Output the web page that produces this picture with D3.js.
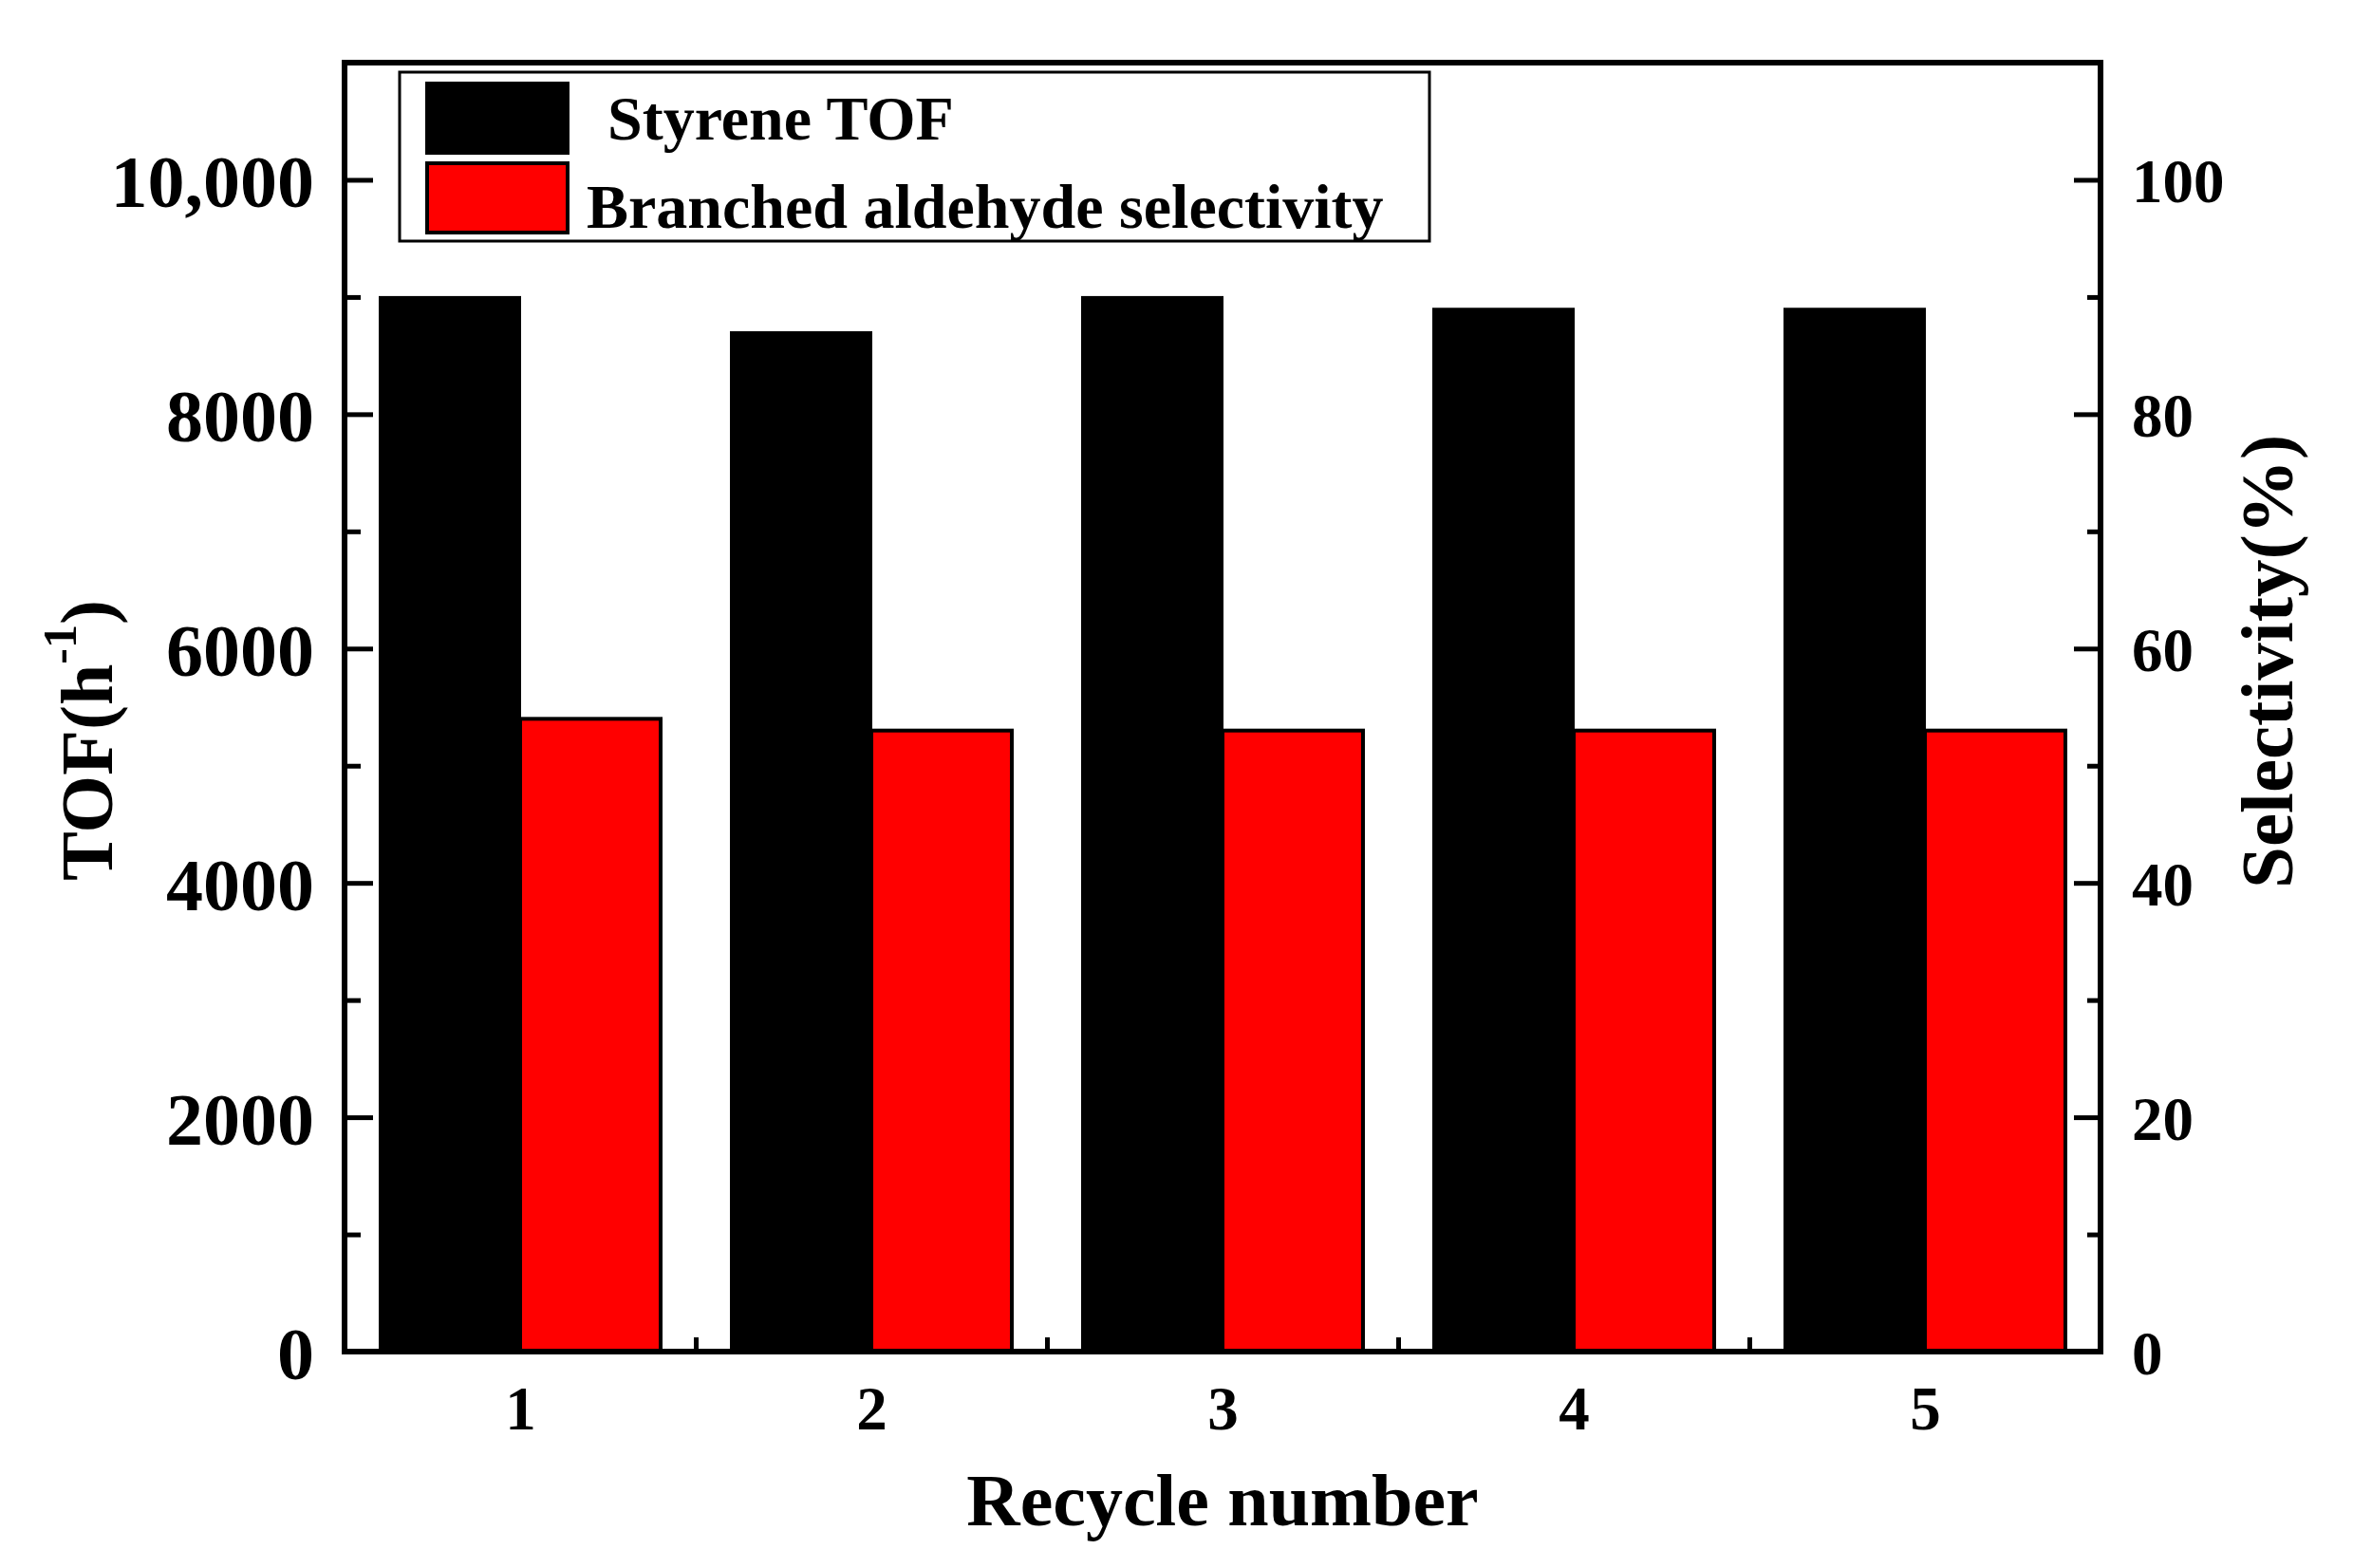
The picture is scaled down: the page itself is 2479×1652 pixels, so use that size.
<!DOCTYPE html>
<html>
<head>
<meta charset="utf-8">
<script src="https://cdn.jsdelivr.net/npm/d3@7"></script>
<style>
  html, body { margin: 0; padding: 0; background: #ffffff; }
  svg { display: block; }
  text { font-family: "Liberation Serif", "Times New Roman", serif; font-weight: bold; fill: #000; }
</style>
</head>
<body>
<svg id="chart" width="2479" height="1652"></svg>
<script>
// ---- data ----
const cycles = [1, 2, 3, 4, 5];
const styreneTOF = [9000, 8700, 9000, 8900, 8900];
const branchedSelectivity = [54, 53, 53, 53, 53];
const leftMajorTicks = [0, 2000, 4000, 6000, 8000, 10000];
const leftTickLabels = ["0", "2000", "4000", "6000", "8000", "10,000"];
const leftMinorTicks = [1000, 3000, 5000, 7000, 9000];
const rightMajorTicks = [0, 20, 40, 60, 80, 100];
const rightMinorTicks = [10, 30, 50, 70, 90];
const xMinorTicks = [1.5, 2.5, 3.5, 4.5];
const seriesNames = ["Styrene TOF", "Branched aldehyde selectivity"];
const seriesColors = ["#000000", "#ff0000"];

// ---- layout ----
const plot = { left: 363, right: 2213, top: 66, bottom: 1424 };
const svg = d3.select("#chart");

const x = d3.scaleLinear().domain([0.5, 5.5]).range([plot.left, plot.right]);
const yL = d3.scaleLinear().domain([0, 11000]).range([plot.bottom, plot.top]);
const yR = d3.scaleLinear().domain([0, 110]).range([plot.bottom, plot.top]);
const barW = x(0.4) - x(0);

// ---- bars ----
const gBars = svg.append("g");
gBars.selectAll("rect.tof").data(cycles).join("rect")
  .attr("class", "tof")
  .attr("x", (d) => x(d) - barW)
  .attr("y", (d, i) => yL(styreneTOF[i]))
  .attr("width", barW)
  .attr("height", (d, i) => yL(0) - yL(styreneTOF[i]))
  .attr("fill", seriesColors[0])
  .attr("stroke", "#000").attr("stroke-width", 2);

gBars.selectAll("rect.sel").data(cycles).join("rect")
  .attr("class", "sel")
  .attr("x", (d) => x(d))
  .attr("y", (d, i) => yR(branchedSelectivity[i]))
  .attr("width", barW)
  .attr("height", (d, i) => yR(0) - yR(branchedSelectivity[i]))
  .attr("fill", seriesColors[1])
  .attr("stroke", "#000").attr("stroke-width", 4);

// ---- axes ----
function styleAxis(g, fontSize) {
  g.select(".domain").remove();
  g.selectAll(".tick line").attr("stroke", "#000").attr("stroke-width", 5);
  g.selectAll(".tick text").attr("font-size", fontSize)
    .attr("font-family", '"Liberation Serif", "Times New Roman", serif')
    .attr("font-weight", "bold").attr("fill", "#000");
}

const gLeft = svg.append("g").attr("transform", `translate(${plot.left},0)`)
  .call(d3.axisLeft(yL).tickValues(leftMajorTicks).tickSize(-30).tickPadding(32)
    .tickFormat((d, i) => leftTickLabels[i]));
styleAxis(gLeft, 78);
gLeft.selectAll(".tick text").attr("dy", "0.36em");
const gLeftMinor = svg.append("g").attr("transform", `translate(${plot.left},0)`)
  .call(d3.axisLeft(yL).tickValues(leftMinorTicks).tickSize(-17).tickFormat(""));
styleAxis(gLeftMinor, 10);

const gRight = svg.append("g").attr("transform", `translate(${plot.right},0)`)
  .call(d3.axisRight(yR).tickValues(rightMajorTicks).tickSize(-28).tickPadding(33)
    .tickFormat(d3.format("d")));
styleAxis(gRight, 65);
gRight.selectAll(".tick text").attr("dy", "0.36em");
const gRightMinor = svg.append("g").attr("transform", `translate(${plot.right},0)`)
  .call(d3.axisRight(yR).tickValues(rightMinorTicks).tickSize(-14).tickFormat(""));
styleAxis(gRightMinor, 10);

const gBottom = svg.append("g").attr("transform", `translate(0,${plot.bottom})`)
  .call(d3.axisBottom(x).tickValues(cycles).tickSize(0).tickPadding(36)
    .tickFormat(d3.format("d")));
styleAxis(gBottom, 65);
gBottom.selectAll(".tick text").attr("dy", "0.71em");
const gBottomMinor = svg.append("g").attr("transform", `translate(0,${plot.bottom})`)
  .call(d3.axisBottom(x).tickValues(xMinorTicks).tickSize(-15).tickFormat(""));
styleAxis(gBottomMinor, 10);

// frame
svg.append("rect")
  .attr("x", plot.left).attr("y", plot.top)
  .attr("width", plot.right - plot.left).attr("height", plot.bottom - plot.top)
  .attr("fill", "none").attr("stroke", "#000").attr("stroke-width", 6);

// ---- axis titles ----
svg.append("text")
  .attr("x", (plot.left + plot.right) / 2).attr("y", 1607)
  .attr("text-anchor", "middle").attr("font-size", 78)
  .text("Recycle number");

const yTitle = svg.append("text")
  .attr("transform", "translate(118,928) rotate(-90)")
  .attr("text-anchor", "start").attr("font-size", 78);
yTitle.append("tspan").text("TOF(h");
yTitle.append("tspan").attr("font-size", 50).attr("dy", -38).text("-1");
yTitle.append("tspan").attr("dy", 38).text(")");

svg.append("text")
  .attr("transform", "translate(2415,936) rotate(-90)")
  .attr("text-anchor", "start").attr("font-size", 79)
  .text("Selectivity(%)");

// ---- legend ----
const gLeg = svg.append("g");
gLeg.append("rect").attr("x", 421).attr("y", 76).attr("width", 1085).attr("height", 178)
  .attr("fill", "#fff").attr("stroke", "#000").attr("stroke-width", 3);
gLeg.append("rect").attr("x", 449).attr("y", 87).attr("width", 150).attr("height", 75)
  .attr("fill", seriesColors[0]).attr("stroke", "#000").attr("stroke-width", 2);
gLeg.append("rect").attr("x", 450).attr("y", 172).attr("width", 148).attr("height", 73)
  .attr("fill", seriesColors[1]).attr("stroke", "#000").attr("stroke-width", 4);
gLeg.append("text").attr("x", 640).attr("y", 147).attr("font-size", 66).text(seriesNames[0]);
gLeg.append("text").attr("x", 618).attr("y", 240).attr("font-size", 66).text(seriesNames[1]);
</script>
</body>
</html>
